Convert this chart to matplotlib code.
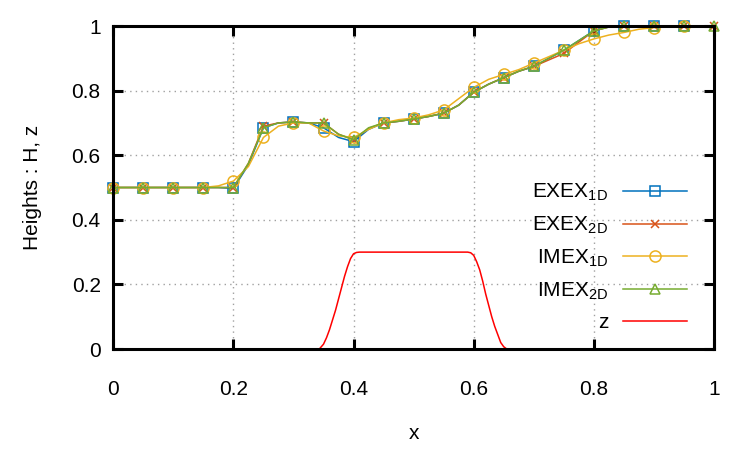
import numpy as np
import matplotlib.pyplot as plt

plt.rcParams['font.family'] = ['Liberation Sans', 'DejaVu Sans']
plt.rcParams['mathtext.default'] = 'regular'

# grid of the solution curves (markers every second point)
x = np.round(np.arange(41) * 0.025, 3)

exex_1d = [0.5, 0.5, 0.5, 0.5, 0.5, 0.5, 0.5, 0.5, 0.497, 0.57,
           0.685, 0.70, 0.703, 0.70, 0.685, 0.655, 0.642, 0.68, 0.70, 0.705,
           0.712, 0.72, 0.73, 0.755, 0.795, 0.82, 0.84, 0.86, 0.875, 0.90,
           0.925, 0.955, 0.985, 0.997, 1.0, 1.0, 1.0, 1.0, 1.0, 1.0, 1.0]
exex_2d = [0.5, 0.5, 0.5, 0.5, 0.5, 0.5, 0.5, 0.5, 0.50, 0.575,
           0.69, 0.70, 0.703, 0.70, 0.70, 0.665, 0.648, 0.683, 0.70, 0.705,
           0.712, 0.72, 0.73, 0.755, 0.795, 0.82, 0.84, 0.86, 0.875, 0.895,
           0.915, 0.95, 0.985, 0.997, 1.0, 1.0, 1.0, 1.0, 1.0, 1.0, 1.0]
imex_1d = [0.5, 0.5, 0.5, 0.5, 0.5, 0.5, 0.5, 0.505, 0.52, 0.565,
           0.655, 0.69, 0.70, 0.70, 0.675, 0.66, 0.655, 0.68, 0.70, 0.71,
           0.715, 0.725, 0.74, 0.775, 0.81, 0.835, 0.85, 0.865, 0.885, 0.905,
           0.925, 0.945, 0.96, 0.972, 0.98, 0.99, 0.995, 0.998, 1.0, 1.0, 1.0]
imex_2d = [0.5, 0.5, 0.5, 0.5, 0.5, 0.5, 0.5, 0.5, 0.50, 0.575,
           0.685, 0.70, 0.703, 0.70, 0.70, 0.665, 0.648, 0.685, 0.70, 0.705,
           0.712, 0.72, 0.73, 0.755, 0.795, 0.82, 0.84, 0.86, 0.875, 0.90,
           0.925, 0.955, 0.985, 0.997, 1.0, 1.0, 1.0, 1.0, 1.0, 1.0, 1.0]

# bottom topography
xz = [0.0, 0.343, 0.35, 0.355, 0.36, 0.365, 0.37, 0.375, 0.38, 0.385, 0.39,
      0.395, 0.40, 0.405, 0.41, 0.59, 0.595, 0.60, 0.605, 0.61, 0.615, 0.62,
      0.625, 0.63, 0.635, 0.64, 0.645, 0.65, 0.655, 1.0]
z = [0.0, 0.0, 0.015, 0.035, 0.06, 0.09, 0.12, 0.155, 0.19, 0.225, 0.255,
     0.28, 0.295, 0.299, 0.30, 0.30, 0.298, 0.29, 0.27, 0.245, 0.21, 0.17,
     0.135, 0.10, 0.07, 0.045, 0.02, 0.007, 0.0, 0.0]

fig = plt.figure(figsize=(7.5, 4.5), dpi=100)
ax = fig.add_axes([0.151, 0.2244, 0.801, 0.7178])

every_no_last = list(range(0, 40, 2))
ax.plot(x, exex_1d, color='#0072bd', lw=1.1, marker='s', ms=7, mfc='none',
        mew=1.1, markevery=every_no_last, clip_on=False, label='EXEX$_{1D}$')
ax.plot(x, exex_2d, color='#d95319', lw=1.1, marker='x', ms=6,
        mew=1.1, markevery=2, clip_on=False, label='EXEX$_{2D}$')
ax.plot(x, imex_1d, color='#edb120', lw=1.1, marker='o', ms=8, mfc='none',
        mew=1.1, markevery=every_no_last, clip_on=False, label='IMEX$_{1D}$')
ax.plot(x, imex_2d, color='#77ac30', lw=1.1, marker='^', ms=6.5, mfc='none',
        mew=1.1, markevery=2, clip_on=False, label='IMEX$_{2D}$')
ax.plot(xz, z, color='#ff0000', lw=1.1, label='z')

ax.set_xlim(0, 1)
ax.set_ylim(0, 1)
ticks = [0, 0.2, 0.4, 0.6, 0.8, 1]
labels = ['0', '0.2', '0.4', '0.6', '0.8', '1']
ax.set_xticks(ticks, labels)
ax.set_yticks(ticks, labels)
ax.tick_params(direction='in', length=7, width=2.2, labelsize=15,
               top=True, right=True, pad=9)
ax.tick_params(axis='x', pad=22)
for s in ax.spines.values():
    s.set_linewidth(2.2)
ax.grid(True, color='#a0a0a0', lw=1, linestyle=(0, (1, 3)))
ax.set_axisbelow(True)

ax.set_xlabel('x', fontsize=15, labelpad=18)
ax.set_ylabel('Heights : H, z', fontsize=15, labelpad=21)

leg = ax.legend(loc='lower right', bbox_to_anchor=(0.973, 0.02), frameon=False,
                markerfirst=False, fontsize=15, handlelength=3.1,
                handletextpad=0.7, labelspacing=0.55, borderpad=0)

fig.savefig('out.png', dpi=100)
